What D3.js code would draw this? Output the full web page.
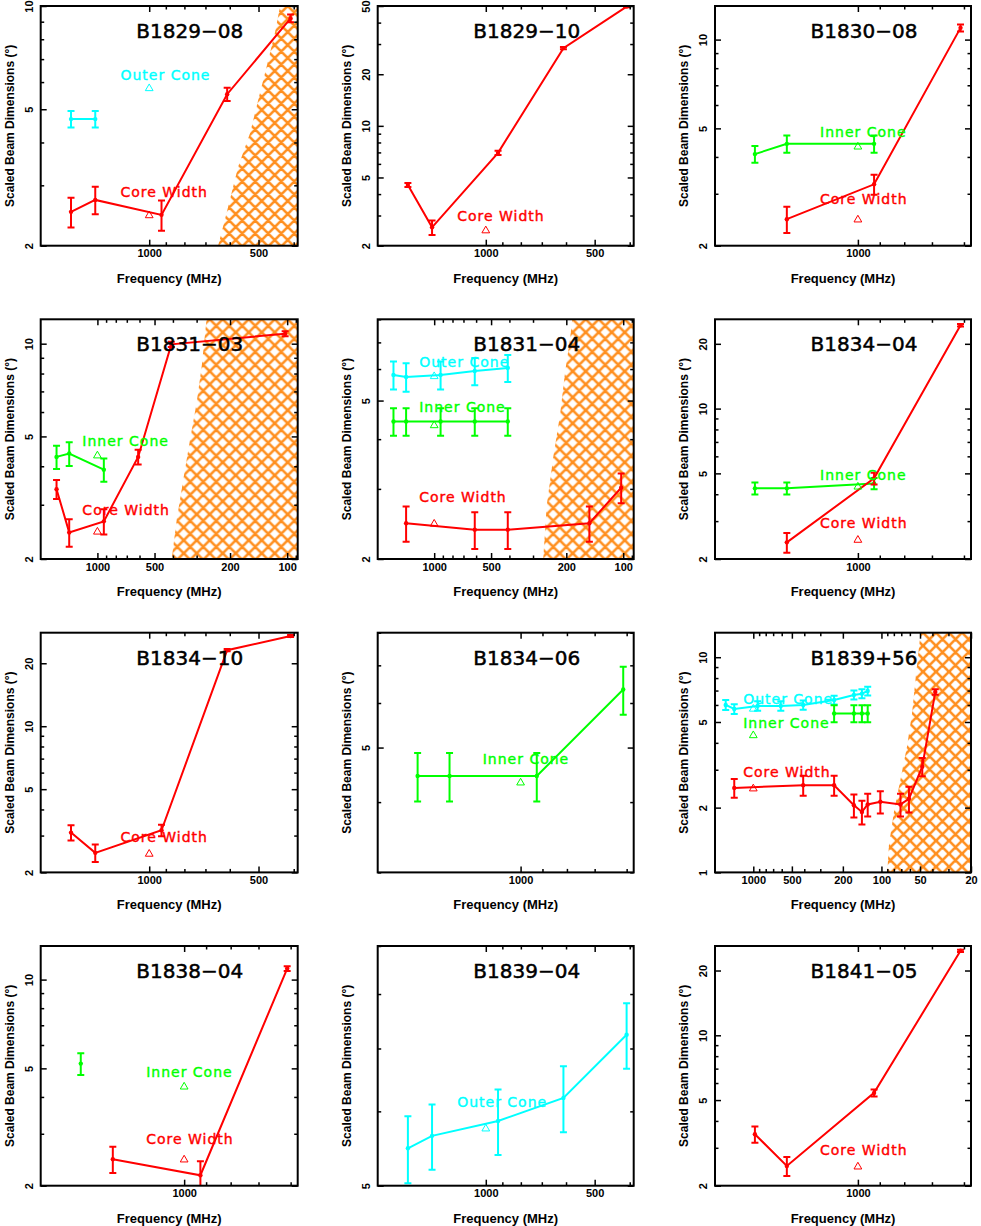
<!DOCTYPE html>
<html>
<head>
<meta charset="utf-8">
<script src="https://cdn.jsdelivr.net/npm/d3@7"></script>
<style>
  body { margin: 0; background: #fff; }
</style>
</head>
<body>
<svg id="fig" width="981" height="1226"></svg>
<script>
// pulsars, one per panel in reading order
const pulsars = ["B1829\u221208", "B1829\u221210", "B1830\u221208",
                 "B1831\u221203", "B1831\u221204", "B1834\u221204",
                 "B1834\u221210", "B1834\u221206", "B1839+56",
                 "B1838\u221204", "B1839\u221204", "B1841\u221205"];

// axis ranges: frequency (MHz, high on the left) and scaled beam size (deg)
const freqRanges = [[1990, 390], [1990, 390], [1990, 580],
                    [1990, 88], [1990, 88], [1990, 580],
                    [1990, 390], [1990, 580], [1990, 20],
                    [1990, 580], [1990, 390], [1990, 580]];
const beamRanges = [[2, 10], [2, 50], [2, 13],
                    [2, 12], [2, 8], [2, 26],
                    [2, 28], [3, 8], [1, 13],
                    [2, 13], [5, 9], [2, 26]];

// tick values for the log axes
const majorTicks = [1, 2, 5, 10, 20, 50, 100, 200, 500, 1000, 2000];
const minorTicks = [1, 10, 100, 1000].flatMap(e => d3.range(1, 10).map(k => k * e));

// reference widths at 1 GHz (triangles) and where their names sit
const refFreq = 1000;
const labelFreq = 1200;
const refBeams = { core: 2.45, inner: 4.33, outer: 5.75 };
const labelBeams = { core: 2.78, inner: 4.67, outer: 6.07 };
const labelNames = { core: "Core Width", inner: "Inner Cone", outer: "Outer Cone" };

// measured widths: [frequency MHz, width deg, error deg]
const outerB1829m08 = [[1642, 4.68, 0.26], [1408, 4.68, 0.26]];
const coreB1829m08 = [[1642, 2.51, 0.25], [1408, 2.72, 0.25], [925, 2.46, 0.25], [610, 5.53, 0.25], [408, 9.2, 0.24]];
const coreB1829m10 = [[1642, 4.52, 0.12], [1408, 2.56, 0.25], [925, 6.96, 0.2], [610, 28.4, 0.4], [408, 49.6, 0.5]];
const innerB1830m08 = [[1642, 4.09, 0.27], [1408, 4.43, 0.3], [925, 4.43, 0.3]];
const coreB1830m08 = [[1408, 2.46, 0.25], [925, 3.23, 0.25], [610, 10.96, 0.3]];
const innerB1831m03 = [[1642, 4.29, 0.37], [1408, 4.4, 0.39], [925, 3.9, 0.34]];
const coreB1831m03 = [[1642, 3.37, 0.24], [1408, 2.44, 0.25], [925, 2.65, 0.25], [610, 4.29, 0.24], [408, 9.95, 0.2], [102.5, 10.78, 0.2]];
const outerB1831m04 = [[1642, 5.8, 0.47], [1408, 5.73, 0.47], [925, 5.8, 0.47], [610, 5.93, 0.47], [408, 6.04, 0.47]];
const innerB1831m04 = [[1642, 4.43, 0.35], [1408, 4.43, 0.35], [925, 4.43, 0.35], [610, 4.43, 0.35], [408, 4.43, 0.35]];
const coreB1831m04 = [[1408, 2.46, 0.25], [610, 2.37, 0.25], [408, 2.37, 0.25], [151, 2.46, 0.25], [102.5, 3.02, 0.26]];
const innerB1834m04 = [[1642, 4.26, 0.27], [1408, 4.26, 0.27], [925, 4.49, 0.27]];
const coreB1834m04 = [[1408, 2.39, 0.25], [925, 4.74, 0.3], [610, 24.4, 0.3]];
const coreB1834m10 = [[1642, 3.1, 0.26], [1408, 2.48, 0.24], [925, 3.18, 0.2], [610, 23.1, 0.3], [408, 27.0, 0.3]];
const innerB1834m06 = [[1642, 4.45, 0.44], [1408, 4.45, 0.44], [925, 4.45, 0.44], [610, 6.34, 0.62]];
const outerB1839p56 = [[1642, 6.0, 0.32], [1408, 5.75, 0.3], [925, 5.94, 0.3], [610, 5.94, 0.3], [408, 6.0, 0.3],
                       [234, 6.33, 0.3], [164, 6.68, 0.32], [142, 6.77, 0.32], [128, 6.97, 0.33]];
const innerB1839p56 = [[234, 5.48, 0.5], [164, 5.48, 0.5], [142, 5.48, 0.5], [128, 5.48, 0.5]];
const coreB1839p56 = [[1408, 2.47, 0.25], [408, 2.54, 0.27], [234, 2.54, 0.27], [164, 2.05, 0.25], [142, 1.91, 0.24],
                      [128, 2.07, 0.25], [102, 2.13, 0.25], [71, 2.07, 0.25], [61, 2.2, 0.3], [48, 3.1, 0.3], [38, 6.9, 0.2]];
const innerB1838m04 = [[1642, 5.19, 0.44]];
const coreB1838m04 = [[1408, 2.46, 0.25], [925, 2.17, 0.25], [610, 10.9, 0.2]];
const outerB1839m04 = [[1642, 5.48, 0.45], [1408, 5.65, 0.45], [925, 5.86, 0.47], [610, 6.2, 0.5], [408, 7.24, 0.58]];
const coreB1841m05 = [[1642, 3.47, 0.3], [1408, 2.47, 0.25], [925, 5.4, 0.2], [610, 24.7, 0.3]];

// edge of the hatched (scatter-broadened) zone: [frequency MHz, width deg]
const hatchB1829m08 = [[646, 2], [613, 2.48], [569, 3.4], [528, 4.25], [501, 5.32], [475, 6.65], [451, 8.32], [436, 10]];
const hatchB1831m03 = [[406, 2], [382, 2.68], [353, 3.62], [325, 4.88], [300, 6.43], [282, 8.46], [266, 12]];
const hatchB1831m04 = [[265, 2], [254, 2.72], [234, 3.63], [216, 4.59], [203, 5.9], [191, 7.16], [186, 8]];
const hatchB1839p56 = [[90, 1], [87.4, 1.34], [79.9, 1.91], [70.8, 2.73], [62.9, 3.9], [57.5, 5.58], [54.1, 7.99], [49.5, 13]];

const panelSeries = [
    [["outer", outerB1829m08], ["core", coreB1829m08]],
    [["core", coreB1829m10]],
    [["inner", innerB1830m08], ["core", coreB1830m08]],
    [["inner", innerB1831m03], ["core", coreB1831m03]],
    [["outer", outerB1831m04], ["inner", innerB1831m04], ["core", coreB1831m04]],
    [["inner", innerB1834m04], ["core", coreB1834m04]],
    [["core", coreB1834m10]],
    [["inner", innerB1834m06]],
    [["outer", outerB1839p56], ["inner", innerB1839p56], ["core", coreB1839p56]],
    [["inner", innerB1838m04], ["core", coreB1838m04]],
    [["outer", outerB1839m04]],
    [["core", coreB1841m05]]
];
const panelHatch = [hatchB1829m08, null, null, hatchB1831m03, hatchB1831m04, null,
                    null, null, hatchB1839p56, null, null, null];

const colors = { core: "#ff0000", inner: "#00ff00", outer: "#00ffff" };
const hatchColor = "#ff8f1f";

// layout of the 3 x 4 grid of frames
const frameLeft = [40.7, 377.7, 715];
const frameWidth = [257, 256, 256];
const frameTop = [6, 319.3, 632.7, 946];
const frameHeight = 239.7;

const svg = d3.select("#fig");
const defs = svg.append("defs");

// cross hatch pattern
const hs = 13;
const pat = defs.append("pattern")
    .attr("id", "hatch")
    .attr("patternUnits", "userSpaceOnUse")
    .attr("width", hs).attr("height", hs);
let hp = "";
[-hs, 0, hs].forEach(o => {
    hp += `M${o - 2},-2L${o + hs + 2},${hs + 2}`;
    hp += `M${o + hs + 2},-2L${o - 2},${hs + 2}`;
});
pat.append("path").attr("d", hp)
    .attr("stroke", hatchColor).attr("stroke-width", 2.6).attr("fill", "none");

const inside = dom => v => v >= Math.min(...dom) * 0.999 && v <= Math.max(...dom) * 1.001;

pulsars.forEach(function (name, i) {
    const col = i % 3, row = Math.floor(i / 3);
    const w = frameWidth[col], h = frameHeight;

    const g = svg.append("g")
        .attr("transform", "translate(" + frameLeft[col] + "," + frameTop[row] + ")");

    const x = d3.scaleLog().domain(freqRanges[i]).range([0, w]);
    const y = d3.scaleLog().domain(beamRanges[i]).range([h, 0]);

    defs.append("clipPath").attr("id", "clip" + i)
        .append("rect").attr("width", w).attr("height", h);
    const plot = g.append("g").attr("clip-path", "url(#clip" + i + ")");

    // hatched zone
    if (panelHatch[i]) {
        const pts = panelHatch[i].map(d => [x(d[0]), y(d[1])]);
        pts.push([x.range()[1] + 3, y.range()[1] - 3], [x.range()[1] + 3, y.range()[0] + 3]);
        plot.append("path")
            .attr("d", "M" + pts.join("L") + "Z")
            .attr("fill", "url(#hatch)");
    }

    // measured widths
    panelSeries[i].forEach(function ([kind, data]) {
        const c = colors[kind];
        plot.append("path")
            .datum(data)
            .attr("fill", "none")
            .attr("stroke", c)
            .attr("stroke-width", 2)
            .attr("d", d3.line().x(d => x(d[0])).y(d => y(d[1])));

        const eb = plot.append("g").attr("stroke", c).attr("stroke-width", 2).attr("fill", "none");
        data.forEach(function (d) {
            const cx = x(d[0]), top = y(d[1] + d[2]), bot = y(d[1] - d[2]);
            eb.append("path")
                .attr("d", `M${cx},${top}L${cx},${bot}M${cx - 3.5},${top}L${cx + 3.5},${top}M${cx - 3.5},${bot}L${cx + 3.5},${bot}`);
        });
        plot.append("g").selectAll("circle")
            .data(data).join("circle")
            .attr("cx", d => x(d[0]))
            .attr("cy", d => y(d[1]))
            .attr("r", 2.2)
            .attr("fill", c);
    });

    // reference triangles and their names
    panelSeries[i].forEach(function ([kind]) {
        g.append("path")
            .attr("d", d3.symbol(d3.symbolTriangle, 26)())
            .attr("transform", "translate(" + x(refFreq) + "," + y(refBeams[kind]) + ")")
            .attr("fill", "none")
            .attr("stroke", colors[kind])
            .attr("stroke-width", 1);
        g.append("text")
            .attr("x", x(labelFreq))
            .attr("y", y(labelBeams[kind]))
            .attr("fill", colors[kind])
            .attr("stroke", colors[kind])
            .attr("stroke-width", 0.4)
            .attr("font-family", "DejaVu Sans")
            .attr("font-size", 14)
            .attr("letter-spacing", 1)
            .text(labelNames[kind]);
    });

    // axes, ticks pointing inwards on all four sides
    const xMaj = majorTicks.filter(inside(x.domain()));
    const xMin = minorTicks.filter(inside(x.domain())).filter(v => !xMaj.includes(v));
    const yMaj = majorTicks.filter(inside(y.domain()));
    const yMin = minorTicks.filter(inside(y.domain())).filter(v => !yMaj.includes(v));

    const axes = [
        [d3.axisBottom(x).tickValues(xMaj).tickSize(-6).tickPadding(4).tickFormat(d3.format("d")), h],
        [d3.axisBottom(x).tickValues(xMin).tickSize(-3.5).tickFormat(""), h],
        [d3.axisTop(x).tickValues(xMaj).tickSize(-6).tickFormat(""), 0],
        [d3.axisTop(x).tickValues(xMin).tickSize(-3.5).tickFormat(""), 0]
    ];
    axes.forEach(function ([ax, ty]) {
        g.append("g").attr("transform", "translate(0," + ty + ")").call(ax);
    });
    const yAxes = [
        [d3.axisLeft(y).tickValues(yMaj).tickSize(-6).tickFormat(d3.format("d")), 0],
        [d3.axisLeft(y).tickValues(yMin).tickSize(-3.5).tickFormat(""), 0],
        [d3.axisRight(y).tickValues(yMaj).tickSize(-6).tickFormat(""), w],
        [d3.axisRight(y).tickValues(yMin).tickSize(-3.5).tickFormat(""), w]
    ];
    yAxes.forEach(function ([ax, tx]) {
        const ga = g.append("g").attr("transform", "translate(" + tx + ",0)").call(ax);
        ga.selectAll("text")
            .attr("x", 0).attr("dy", null)
            .attr("text-anchor", "middle")
            .attr("transform", "translate(-8,0) rotate(-90)");
    });
    g.selectAll(".domain").remove();
    g.selectAll(".tick line").attr("stroke-width", 1.5);
    g.selectAll(".tick text")
        .attr("font-family", "Liberation Sans")
        .attr("font-weight", "bold")
        .attr("font-size", 11)
        .attr("fill", "#000");

    // frame
    g.append("rect")
        .attr("width", w).attr("height", h)
        .attr("fill", "none").attr("stroke", "#000").attr("stroke-width", 2);

    // titles
    g.append("text")
        .attr("x", 149).attr("y", 32)
        .attr("text-anchor", "middle")
        .attr("font-family", "DejaVu Sans")
        .attr("font-size", 20)
        .attr("stroke", "#000")
        .attr("stroke-width", 0.5)
        .text(name);
    g.append("text")
        .attr("x", w / 2).attr("y", h + 37)
        .attr("text-anchor", "middle")
        .attr("font-family", "Liberation Sans")
        .attr("font-weight", "bold")
        .attr("font-size", 13)
        .text("Frequency (MHz)");
    g.append("text")
        .attr("transform", "translate(-27," + h / 2 + ") rotate(-90)")
        .attr("text-anchor", "middle")
        .attr("font-family", "Liberation Sans")
        .attr("font-weight", "bold")
        .attr("font-size", 12)
        .text("Scaled Beam Dimensions (\u00b0)");
});
</script>
</body>
</html>
